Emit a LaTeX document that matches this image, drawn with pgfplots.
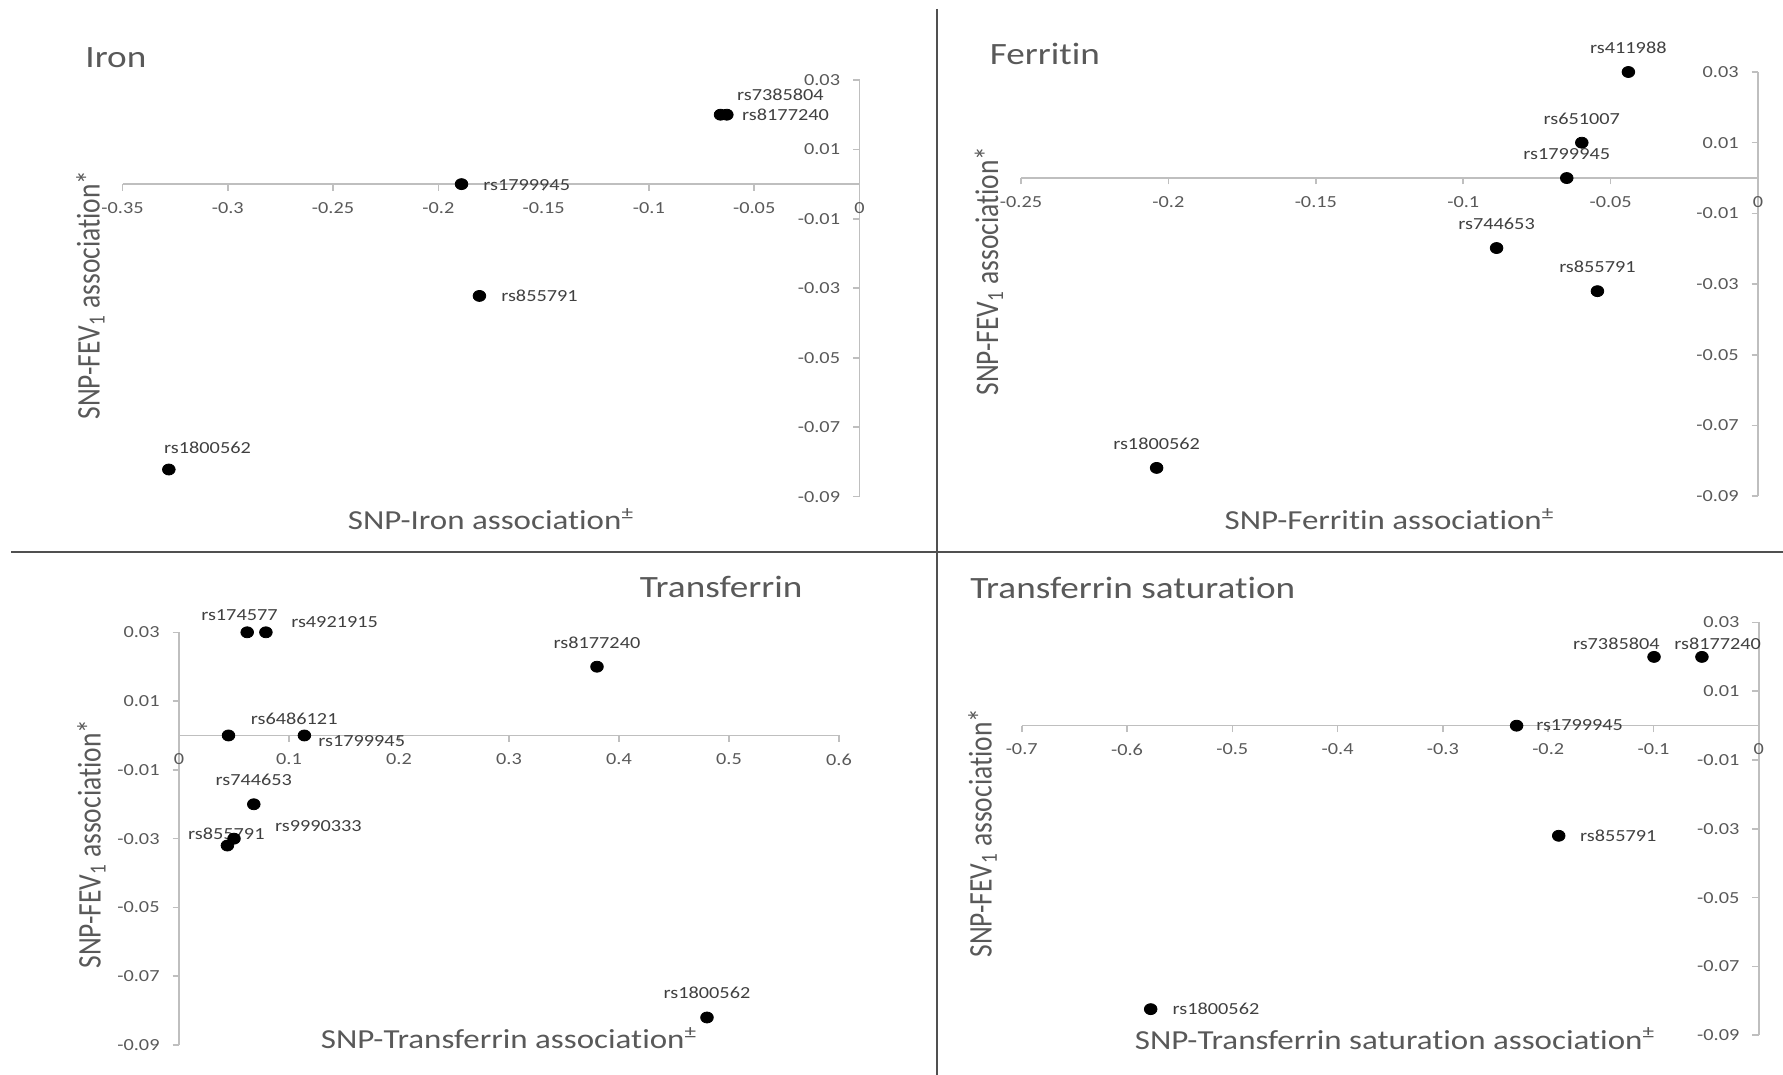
\documentclass[border=0pt]{standalone}
\usepackage{fontspec}
\setmainfont{Carlito}[FakeStretch=1.2, Ligatures=CommonOff]
\newfontfamily\plainfont{Carlito}[Ligatures=CommonOff]
\usepackage{graphicx}
\usepackage{pgfplots}
\pgfplotsset{compat=1.18}
\definecolor{axgray}{HTML}{BFBFBF}
\definecolor{txtgray}{HTML}{595959}
\definecolor{lblgray}{HTML}{404040}
\definecolor{divgray}{HTML}{505050}
\pgfplotsset{
  exstyle/.style={
    scale only axis, anchor=south west,
    axis x line=middle, axis y line=middle,
    every inner x axis line/.append style={-},
    every inner y axis line/.append style={-},
    axis line style={axgray, line width=0.8pt, -},
    tick style={axgray, line width=0.8pt},
    tick align=outside,
    major tick length=3.2pt,
    ymin=-0.09, ymax=0.03,
    ytick={-0.09,-0.07,-0.05,-0.03,-0.01,0.01,0.03},
    yticklabels={-0.09,-0.07,-0.05,-0.03,-0.01,0.01,0.03},
    ticklabel style={font=\fontsize{8.45}{10}\selectfont, text=txtgray},
    xticklabel style={yshift=-2.4pt},
    yticklabel style={xshift=-3pt},
    hide obscured x ticks=false,
    hide obscured y ticks=false,
    clip=false,
    scaled ticks=false,
  },
  pts/.style={only marks, mark=*, mark size=2.75pt, mark options={black, fill=black, xscale=1.15}},
}
\tikzset{
  lbl/.style={font=\fontsize{8.45}{10}\selectfont, text=lblgray, inner sep=0pt},
  lblR/.style={lbl, anchor=base west, xshift=10.75pt, yshift=-3pt},
  lblA/.style={lbl, anchor=base, yshift=9.3pt},
  ttl/.style={font=\fontsize{15.5}{18}\selectfont, text=txtgray, inner sep=0pt, anchor=base west},
  xlab/.style={font=\fontsize{13.75}{16}\selectfont, text=txtgray, inner sep=0pt, anchor=base},
  ylab/.style={font=\plainfont\fontsize{13.75}{16}\selectfont, text=txtgray, inner sep=0pt, anchor=base, rotate=90},
}
\newcommand{\ylabtext}{\scalebox{1}[1.2]{SNP-FEV\textsubscript{1} association*}}
\begin{document}
\begin{tikzpicture}
\path[use as bounding box] (0,0) rectangle (891.5pt,537.5pt);

% ---------------- Iron ----------------
\begin{axis}[exstyle, at={(61.25pt,289.2pt)}, width=368.5pt, height=208.3pt,
  xmin=-0.35, xmax=0,
  xtick={-0.35,-0.3,-0.25,-0.2,-0.15,-0.1,-0.05,0},
  xticklabels={-0.35,-0.3,-0.25,-0.2,-0.15,-0.1,-0.05,0}]
\addplot[pts] coordinates {(-0.066,0.02) (-0.063,0.02) (-0.189,0) (-0.1805,-0.0322) (-0.328,-0.0822)};
\node[lbl, anchor=base west, xshift=8.1pt, yshift=7pt] at (axis cs:-0.066,0.02) {rs7385804};
\node[lbl, anchor=base west, xshift=7.5pt, yshift=-3pt] at (axis cs:-0.063,0.02) {rs8177240};
\node[lblR] at (axis cs:-0.189,0) {rs1799945};
\node[lblR] at (axis cs:-0.1805,-0.0322) {rs855791};
\node[lbl, anchor=base west, xshift=-2.5pt, yshift=8.2pt] at (axis cs:-0.328,-0.0822) {rs1800562};
\end{axis}

% ---------------- Ferritin ----------------
\begin{axis}[exstyle, at={(510.5pt,289.4pt)}, width=368.55pt, height=212.1pt,
  xmin=-0.25, xmax=0,
  xtick={-0.25,-0.2,-0.15,-0.1,-0.05,0},
  xticklabels={-0.25,-0.2,-0.15,-0.1,-0.05,0}]
\addplot[pts] coordinates {(-0.044,0.03) (-0.0598,0.01) (-0.0649,0) (-0.0887,-0.0198) (-0.0545,-0.032) (-0.204,-0.082)};
\node[lblA] at (axis cs:-0.044,0.03) {rs411988};
\node[lblA] at (axis cs:-0.0598,0.01) {rs651007};
\node[lblA] at (axis cs:-0.0649,0) {rs1799945};
\node[lblA] at (axis cs:-0.0887,-0.0198) {rs744653};
\node[lblA] at (axis cs:-0.0545,-0.032) {rs855791};
\node[lblA] at (axis cs:-0.204,-0.082) {rs1800562};
\end{axis}

% ---------------- Transferrin ----------------
\begin{axis}[exstyle, at={(89.5pt,15pt)}, width=330pt, height=206.35pt,
  xmin=0, xmax=0.6,
  xtick={0,0.1,0.2,0.3,0.4,0.5,0.6},
  xticklabels={0,0.1,0.2,0.3,0.4,0.5,0.6}]
\addplot[pts] coordinates {(0.062,0.03) (0.079,0.03) (0.38,0.02) (0.045,0) (0.114,0) (0.068,-0.02) (0.05,-0.03) (0.044,-0.032) (0.48,-0.082)};
\node[lbl, anchor=base west, xshift=-23.15pt, yshift=6.15pt] at (axis cs:0.062,0.03) {rs174577};
\node[lbl, anchor=base west, xshift=12.5pt, yshift=2.5pt] at (axis cs:0.079,0.03) {rs4921915};
\node[lblA] at (axis cs:0.38,0.02) {rs8177240};
\node[lbl, anchor=base west, xshift=11pt, yshift=5.35pt] at (axis cs:0.045,0) {rs6486121};
\node[lbl, anchor=base west, xshift=6.8pt, yshift=-5.5pt] at (axis cs:0.114,0) {rs1799945};
\node[lblA] at (axis cs:0.068,-0.02) {rs744653};
\node[lbl, anchor=base west, xshift=20.35pt, yshift=3.8pt] at (axis cs:0.05,-0.03) {rs9990333};
\node[lbl, anchor=base west, xshift=-19.8pt, yshift=3.2pt] at (axis cs:0.044,-0.032) {rs855791};
\node[lblA] at (axis cs:0.48,-0.082) {rs1800562};
\end{axis}

% ---------------- Transferrin saturation ----------------
\begin{axis}[exstyle, at={(510.85pt,19.85pt)}, width=368.55pt, height=206.4pt,
  xmin=-0.7, xmax=0,
  xtick={-0.7,-0.6,-0.5,-0.4,-0.3,-0.2,-0.1,0},
  xticklabels={-0.7,-0.6,-0.5,-0.4,-0.3,-0.2,-0.1,0}]
\addplot[pts] coordinates {(-0.0995,0.02) (-0.054,0.02) (-0.23,0) (-0.19,-0.032) (-0.5775,-0.0824)};
\node[lbl, anchor=base east, xshift=3pt, yshift=3.85pt] at (axis cs:-0.0995,0.02) {rs7385804};
\node[lbl, anchor=base west, xshift=-14pt, yshift=3.85pt] at (axis cs:-0.054,0.02) {rs8177240};
\node[lbl, anchor=base west, xshift=9.65pt, yshift=-2.65pt] at (axis cs:-0.23,0) {rs1799945};
\node[lbl, anchor=base west, xshift=10.5pt, yshift=-2.85pt] at (axis cs:-0.19,-0.032) {rs855791};
\node[lbl, anchor=base west, xshift=10.8pt, yshift=-2.65pt] at (axis cs:-0.5775,-0.0824) {rs1800562};
\end{axis}

% ---------------- texts and dividers (pixel coordinates) ----------------
\begin{scope}[x=0.5pt, y=-0.5pt, shift={(0pt,537.5pt)}]
\draw[divgray, line width=1pt] (11,552.5) -- (1783,552.5);
\draw[divgray, line width=1pt] (937,9) -- (937,1075);

\node[ttl] at (85,67.7) {Iron};
\node[ttl] at (989.5,64.5) {Ferritin};
\node[ttl] at (639.5,597.5) {Transferrin};
\node[ttl] at (970,598.5) {Transferrin saturation};

\node[xlab] at (491,529.5) {SNP-Iron association\textsuperscript{±}};
\node[xlab] at (1389.5,529.5) {SNP-Ferritin association\textsuperscript{±}};
\node[xlab] at (509,1048.5) {SNP-Transferrin association\textsuperscript{±}};
\node[xlab] at (1395,1049.3) {SNP-Transferrin saturation association\textsuperscript{±}};

\node[ylab] at (99.5,295) {\ylabtext};
\node[ylab] at (998,271) {\ylabtext};
\node[ylab] at (100.5,844) {\ylabtext};
\node[ylab] at (991.7,833) {\ylabtext};
\end{scope}
\end{tikzpicture}
\end{document}
